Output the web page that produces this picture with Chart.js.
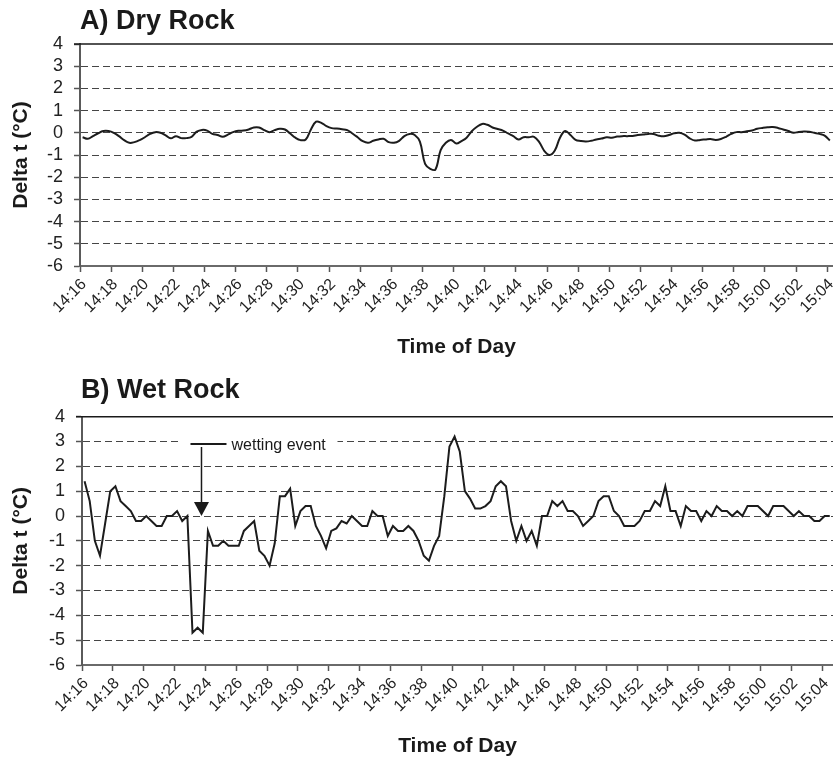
<!DOCTYPE html>
<html>
<head>
<meta charset="utf-8">
<title>Delta t – Dry Rock / Wet Rock</title>
<script src="https://cdn.jsdelivr.net/npm/chart.js@4.4.1/dist/chart.umd.min.js"></script>
<style>
  html, body { margin: 0; padding: 0; background: #ffffff; overflow: hidden; }
  body { width: 833px; height: 761px; position: relative; font-family: "Liberation Sans", Arial, Helvetica, sans-serif; }
  canvas { position: absolute; left: 0; }
  .panel-title { position: absolute; margin: 0; font-size: 27px; line-height: 27px; font-weight: bold; color: #1a1a1a; white-space: nowrap; z-index: 2; }
</style>
</head>
<body>
<canvas id="dryChart" width="833" height="370" style="top:0px"></canvas>
<canvas id="wetChart" width="833" height="391" style="top:370px"></canvas>
<h2 class="panel-title" style="left:80px; top:7px;">A) Dry Rock</h2>
<h2 class="panel-title" style="left:81px; top:376px;">B) Wet Rock</h2>
<script>
// Logger samples every 20 s, starting at 14:16.
const SAMPLE_SECONDS = 20;

// Tick labels, one every 2 minutes.
const timeTickLabels = [
  '14:16', '14:18', '14:20', '14:22', '14:24', '14:26', '14:28', '14:30', '14:32',
  '14:34', '14:36', '14:38', '14:40', '14:42', '14:44', '14:46', '14:48', '14:50',
  '14:52', '14:54', '14:56', '14:58', '15:00', '15:02', '15:04'
];

// Delta t (°C), dry rock surface
const dryRockDelta = [
  -0.2, -0.27, -0.15, -0.02, 0.08, 0.08, 0.0, -0.15, -0.33, -0.45,
  -0.42, -0.33, -0.2, -0.05, 0.03, 0.0, -0.12, -0.25, -0.15, -0.24,
  -0.24, -0.18, 0.05, 0.13, 0.1, -0.05, -0.1, -0.18, -0.08, 0.03,
  0.09, 0.1, 0.15, 0.24, 0.24, 0.12, 0.03, 0.12, 0.18, 0.15,
  -0.03, -0.22, -0.33, -0.3, 0.15, 0.5, 0.45, 0.3, 0.21, 0.19,
  0.16, 0.12, -0.03, -0.2, -0.38, -0.45, -0.36, -0.3, -0.27, -0.42,
  -0.45, -0.36, -0.15, -0.05, -0.1, -0.4, -1.4, -1.62, -1.65, -0.78,
  -0.45, -0.32, -0.48, -0.37, -0.22, 0.07, 0.27, 0.4, 0.36, 0.24,
  0.17, 0.1, -0.03, -0.15, -0.3, -0.2, -0.2, -0.18, -0.42, -0.82,
  -1.0, -0.8, -0.22, 0.08, -0.1, -0.32, -0.37, -0.39, -0.36, -0.3,
  -0.26, -0.2, -0.22, -0.17, -0.15, -0.15, -0.14, -0.1, -0.08, -0.05,
  -0.05, -0.13, -0.16, -0.1, -0.02, 0.0, -0.08, -0.25, -0.35, -0.32,
  -0.3, -0.28, -0.32, -0.28, -0.18, -0.05, 0.03, 0.03, 0.07, 0.1,
  0.18, 0.22, 0.25, 0.26, 0.22, 0.15, 0.08, 0.0, 0.04, 0.06,
  0.05, 0.0, -0.05, -0.13, -0.35
];

// Delta t (°C), wet rock surface
const wetRockDelta = [
  1.4, 0.6, -1.0, -1.6, -0.3, 1.0, 1.2, 0.6, 0.4, 0.2,
  -0.2, -0.2, 0.0, -0.2, -0.4, -0.4, 0.0, 0.0, 0.2, -0.2,
  0.0, -4.7, -4.5, -4.7, -0.6, -1.2, -1.2, -1.0, -1.2, -1.2,
  -1.2, -0.6, -0.4, -0.2, -1.4, -1.6, -2.0, -1.1, 0.8, 0.8,
  1.1, -0.4, 0.2, 0.4, 0.4, -0.4, -0.8, -1.3, -0.6, -0.5,
  -0.2, -0.3, 0.0, -0.2, -0.4, -0.4, 0.2, 0.0, 0.0, -0.8,
  -0.4, -0.6, -0.6, -0.4, -0.6, -1.0, -1.6, -1.8, -1.2, -0.8,
  0.8, 2.8, 3.2, 2.6, 1.0, 0.7, 0.3, 0.3, 0.4, 0.6,
  1.2, 1.4, 1.2, -0.2, -1.0, -0.4, -1.0, -0.6, -1.2, 0.0,
  0.0, 0.6, 0.4, 0.6, 0.2, 0.2, 0.0, -0.4, -0.2, 0.0,
  0.6, 0.8, 0.8, 0.2, 0.0, -0.4, -0.4, -0.4, -0.2, 0.2,
  0.2, 0.6, 0.4, 1.2, 0.2, 0.2, -0.4, 0.4, 0.2, 0.2,
  -0.2, 0.2, 0.0, 0.4, 0.2, 0.2, 0.0, 0.2, 0.0, 0.4,
  0.4, 0.4, 0.2, 0.0, 0.4, 0.4, 0.4, 0.2, 0.0, 0.2,
  0.0, 0.0, -0.2, -0.2, 0.0, 0.0
];

// Water applied at about 14:23:45 (minutes after 14:16)
const wettingEvent = { minute: 7.75, label: 'wetting event' };

const deltaAxis = { min: -6, max: 4 };

const FONT = '"Liberation Sans", Arial, Helvetica, sans-serif';
Chart.defaults.font.family = FONT;
Chart.defaults.color = '#1f1f1f';

// Solid frame line along the top of the plot area
const topFrame = {
  id: 'topFrame',
  beforeDatasetsDraw(chart) {
    const { ctx, chartArea } = chart;
    ctx.save();
    ctx.strokeStyle = '#1a1a1a';
    ctx.lineWidth = 1.5;
    ctx.beginPath();
    ctx.moveTo(chartArea.left - 6, chartArea.top);
    ctx.lineTo(chartArea.right, chartArea.top);
    ctx.stroke();
    ctx.restore();
  }
};

// Label and arrow marking the wetting event
const wettingMarker = {
  id: 'wettingMarker',
  afterDatasetsDraw(chart) {
    const { ctx, scales: { x, y } } = chart;
    const ax = x.getPixelForValue(wettingEvent.minute);
    const tipY = y.getPixelForValue(0);
    const labelY = y.getPixelForValue(2.9);
    ctx.save();
    ctx.fillStyle = '#ffffff';
    ctx.fillRect(ax - 22, labelY - 12, 158, 22);
    ctx.strokeStyle = '#1a1a1a';
    ctx.fillStyle = '#1a1a1a';
    ctx.lineWidth = 2;
    ctx.beginPath();
    ctx.moveTo(ax - 11, labelY);
    ctx.lineTo(ax + 25, labelY);
    ctx.stroke();
    ctx.lineWidth = 1.5;
    ctx.beginPath();
    ctx.moveTo(ax, labelY + 3);
    ctx.lineTo(ax, tipY - 13);
    ctx.stroke();
    ctx.beginPath();
    ctx.moveTo(ax - 7.5, tipY - 14);
    ctx.lineTo(ax + 7.5, tipY - 14);
    ctx.lineTo(ax, tipY);
    ctx.closePath();
    ctx.fill();
    ctx.font = '16px ' + FONT;
    ctx.textAlign = 'left';
    ctx.textBaseline = 'alphabetic';
    ctx.fillText(wettingEvent.label, ax + 30, labelY + 5.5);
    ctx.restore();
  }
};

function buildChart(canvasId, values, o) {
  const points = values.map((v, i) => ({ x: (i + 0.5) * SAMPLE_SECONDS / 60, y: v }));
  return new Chart(document.getElementById(canvasId), {
    type: 'line',
    data: {
      datasets: [{
        data: points,
        borderColor: '#1c1c1c',
        borderWidth: 2,
        pointRadius: 0,
        fill: false,
        tension: o.tension
      }]
    },
    options: {
      responsive: false,
      animation: false,
      devicePixelRatio: 1,
      events: [],
      layout: { padding: { top: o.top, left: 0, right: 0, bottom: 0 } },
      plugins: {
        legend: { display: false },
        tooltip: { enabled: false },
        title: { display: false }
      },
      scales: {
        x: {
          type: 'linear',
          min: 0,
          max: o.xMax,
          afterBuildTicks: s => { s.ticks = timeTickLabels.map((_, i) => ({ value: i * 2 })); },
          afterFit: s => { s.height = o.xHeight; s.paddingLeft = 0; s.paddingRight = 0; },
          ticks: {
            autoSkip: false,
            minRotation: 45,
            maxRotation: 45,
            padding: 3,
            labelOffset: 4,
            color: '#222222',
            font: { size: 16 },
            callback: (value, index) => timeTickLabels[index]
          },
          grid: { drawOnChartArea: false, drawTicks: true, tickLength: 6, tickColor: '#555555', tickWidth: 1.5 },
          border: { display: true, color: '#6a6a6a', width: 2 },
          title: {
            display: true,
            text: 'Time of Day',
            color: '#1a1a1a',
            font: { size: 21, weight: 'bold' },
            padding: { top: 0, bottom: o.xTitlePad }
          }
        },
        y: {
          min: deltaAxis.min,
          max: deltaAxis.max,
          afterFit: s => { s.width = o.yWidth; s.paddingTop = 0; s.paddingBottom = 0; },
          ticks: { stepSize: 1, autoSkip: false, padding: 11, color: '#222222', font: { size: 18 } },
          grid: {
            color: c => (c.tick && (c.tick.value === deltaAxis.max || c.tick.value === deltaAxis.min)) ? 'rgba(0,0,0,0)' : '#454545',
            lineWidth: 1,
            drawTicks: true,
            tickLength: 6,
            tickColor: '#555555',
            tickWidth: 1.5
          },
          border: { display: true, color: '#5a5a5a', width: 2, dash: [7, 4] },
          title: {
            display: true,
            text: 'Delta t (°C)',
            color: '#1a1a1a',
            font: { size: 21, weight: 'bold' },
            padding: { top: 9, bottom: 0 }
          }
        }
      }
    },
    plugins: o.extraPlugins
  });
}

buildChart('dryChart', dryRockDelta, {
  tension: 0.4, top: 44, xMax: 48.37, xHeight: 104, xTitlePad: 10, yWidth: 80,
  extraPlugins: [topFrame]
});

buildChart('wetChart', wetRockDelta, {
  tension: 0, top: 46.7, xMax: 48.71, xHeight: 96, xTitlePad: 2, yWidth: 82,
  extraPlugins: [topFrame, wettingMarker]
});
</script>
</body>
</html>
